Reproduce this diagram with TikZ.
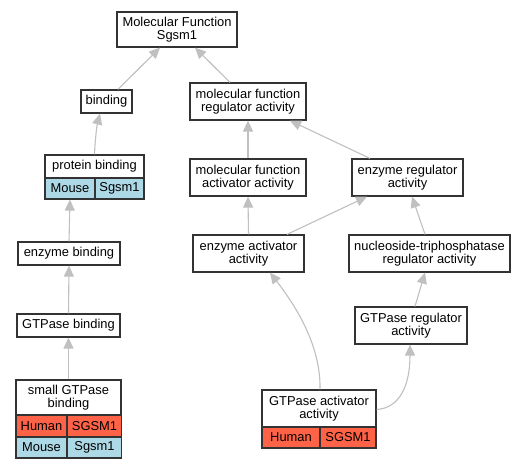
\documentclass[tikz,border=0pt]{standalone}
\usepackage{fontspec}
\setmainfont{Liberation Sans}
\usetikzlibrary{arrows.meta}
\definecolor{edgegray}{HTML}{C0C0C0}
\definecolor{boxline}{HTML}{333333}
\definecolor{humanred}{HTML}{FF6347}
\definecolor{mouseblue}{HTML}{ADD8E6}
\begin{document}
\begin{tikzpicture}[x=1pt,y=-1pt,
  box/.style={draw=boxline,line width=1.2pt,fill=white,inner sep=0pt,align=center,font=\fontsize{12.9}{13.5}\selectfont},
  hcell/.style={box,fill=humanred},
  mcell/.style={box,fill=mouseblue},
  edge/.style={draw=edgegray,line width=1.1pt,-{Triangle[length=11pt,width=10pt]}}]
\useasboundingbox[fill=white] (0,0) rectangle (525,469);
% left column
\node[box,minimum width=120pt,minimum height=35pt] (mf) at (177,29.5) {Molecular Function\\Sgsm1};
\node[box,minimum width=51pt,minimum height=23pt] (bind) at (106.5,101.5) {binding};
\node[box,minimum width=99pt,minimum height=23pt] (pb) at (94.5,166.5) {protein binding};
\node[mcell,minimum width=50pt,minimum height=21pt] (pbm) at (70,188.5) {Mouse};
\node[mcell,minimum width=49pt,minimum height=21pt] (pbs) at (119.5,188.5) {Sgsm1};
\node[box,minimum width=102pt,minimum height=23pt] (eb) at (69,253.5) {enzyme binding};
\node[box,minimum width=103pt,minimum height=23pt] (gb) at (68.5,325.5) {GTPase binding};
\node[box,minimum width=105pt,minimum height=35pt] (sg) at (68.5,397.5) {small GTPase\\binding};
\node[hcell,minimum width=51pt,minimum height=22pt] (sgh) at (41.5,426) {Human};
\node[hcell,minimum width=54pt,minimum height=22pt] (sghs) at (94.5,426) {SGSM1};
\node[mcell,minimum width=51pt,minimum height=21pt] (sgm) at (41.5,447.5) {Mouse};
\node[mcell,minimum width=54pt,minimum height=21pt] (sgms) at (94.5,447.5) {Sgsm1};
% right part
\node[box,minimum width=116pt,minimum height=37pt] (mfra) at (248,101.5) {molecular function\\regulator activity};
\node[box,minimum width=116pt,minimum height=37pt] (mfaa) at (248,177.5) {molecular function\\activator activity};
\node[box,minimum width=111pt,minimum height=37pt] (era) at (407.5,177.5) {enzyme regulator\\activity};
\node[box,minimum width=111pt,minimum height=37pt] (eaa) at (248.5,253.5) {enzyme activator\\activity};
\node[box,minimum width=161pt,minimum height=37pt] (ntr) at (429.5,253.5) {nucleoside-triphosphatase\\regulator activity};
\node[box,minimum width=112pt,minimum height=37pt] (gra) at (411,325.5) {GTPase regulator\\activity};
\node[box,minimum width=114pt,minimum height=37pt] (gaa) at (319,408.5) {GTPase activator\\activity};
\node[hcell,minimum width=58pt,minimum height=21pt] (gaah) at (291,437.5) {Human};
\node[hcell,minimum width=56pt,minimum height=21pt] (gaas) at (348,437.5) {SGSM1};
% edges
\draw[edge] ([xshift=11.5pt]bind.north) -- ([xshift=-17pt]mf.south);
\draw[edge] ([xshift=-18pt]mfra.north) -- ([xshift=18pt]mf.south);
\draw[edge] (pb.north) .. controls (95,140) and (97,125) .. ([xshift=-6.5pt]bind.south);
\draw[edge] (eb.north) -- (pbm.south);
\draw[edge] (gb.north) -- (eb.south);
\draw[edge] (sg.north) -- (gb.south);
\draw[edge] (mfaa.north) -- (mfra.south);
\draw[edge] ([xshift=-37.5pt]era.north) -- ([xshift=42pt]mfra.south);
\draw[edge] ([xshift=38.5pt]eaa.north) -- ([xshift=-40.5pt]era.south);
\draw[edge] ([xshift=-4.5pt]ntr.north) -- ([xshift=4.5pt]era.south);
\draw[edge] (eaa.north) -- (mfaa.south);
\draw[edge] ([xshift=4pt]gra.north) -- ([xshift=-4.5pt]ntr.south);
\draw[edge] ([xshift=1pt]gaa.north) .. controls (321,345) and (295,305) .. ([xshift=21.5pt]eaa.south);
\draw[edge] ([yshift=-1pt]gaa.east) .. controls (400,408) and (410,385) .. ([xshift=-1pt]gra.south);
\end{tikzpicture}
\end{document}
